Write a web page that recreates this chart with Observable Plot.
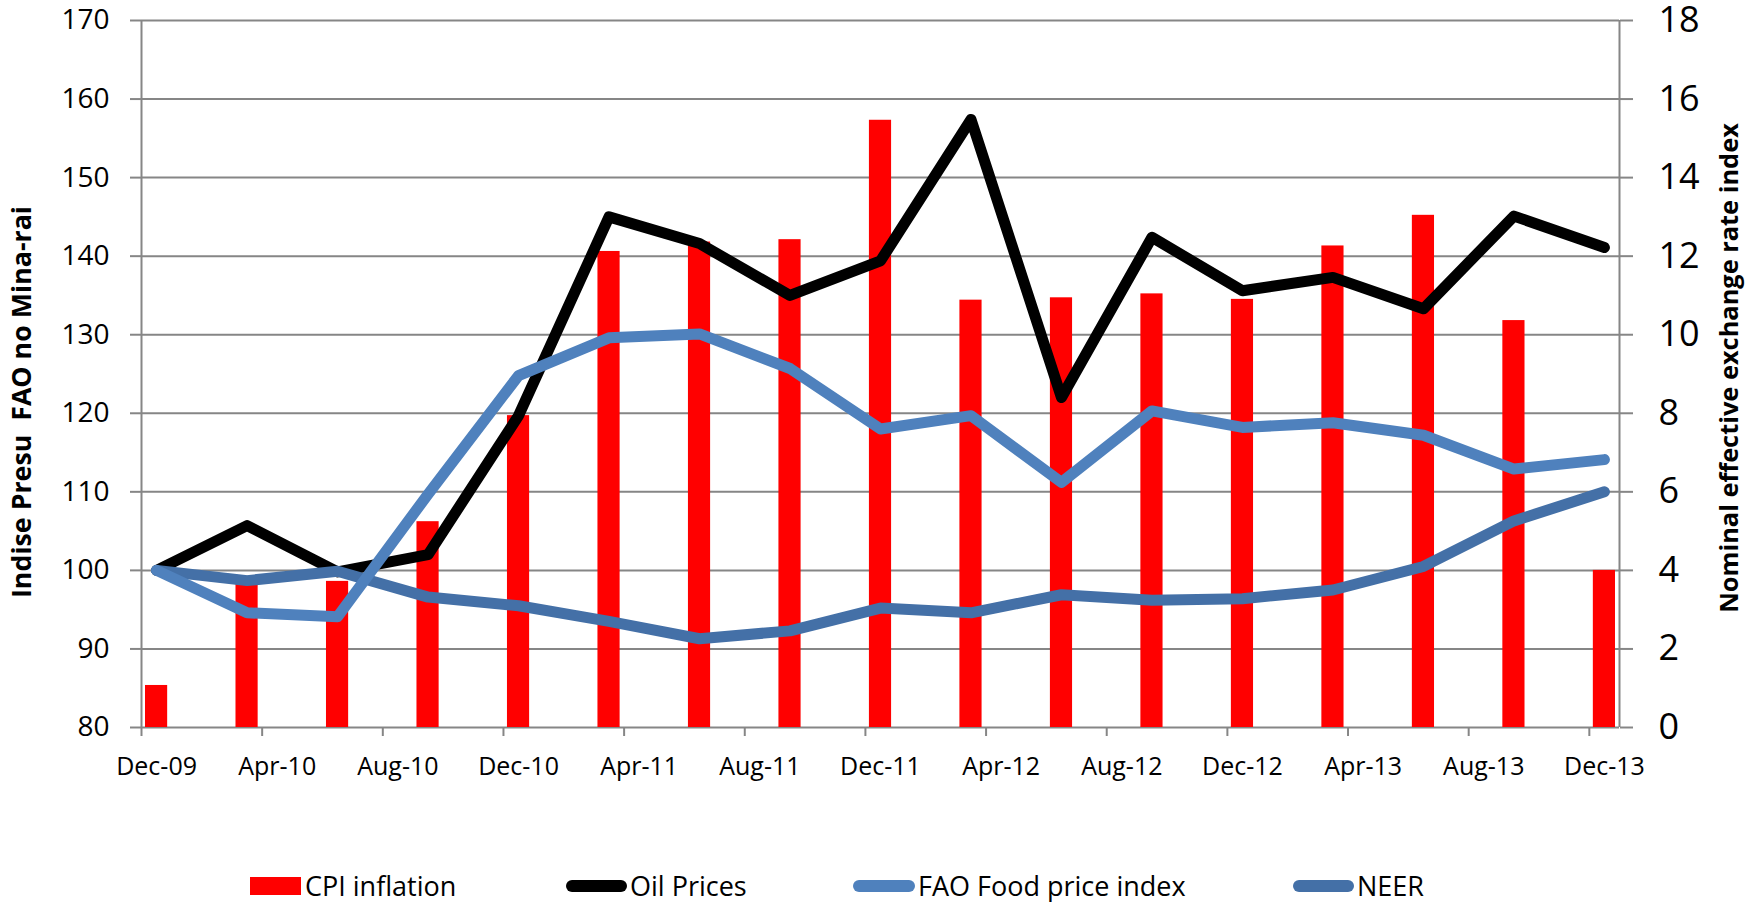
<!DOCTYPE html>
<html>
<head>
<meta charset="utf-8">
<script src="https://cdn.jsdelivr.net/npm/d3@7"></script>
<script src="https://cdn.jsdelivr.net/npm/@observablehq/plot@0.6"></script>
<style>
  html, body { margin: 0; padding: 0; background: #fff; }
  body { width: 1760px; height: 902px; overflow: hidden; font-family: "Open Sans", sans-serif; }
  #legend { position: relative; width: 1760px; height: 102px; }
  .sw { position: absolute; }
  .lt { position: absolute; font-size: 27px; line-height: 27px; top: 72px; white-space: nowrap; color: #000; }
</style>
</head>
<body>
<div id="chart"></div>
<div id="legend"></div>
<script>
// ---- data ----
const quarters = ["Dec-09","Mar-10","Jun-10","Sep-10","Dec-10","Mar-11","Jun-11","Sep-11","Dec-11","Mar-12","Jun-12","Sep-12","Dec-12","Mar-13","Jun-13","Sep-13","Dec-13"];
const cpiInflation = [1.07,3.64,3.72,5.24,7.94,12.12,12.36,12.42,15.46,10.88,10.94,11.04,10.90,12.26,13.04,10.36,4.00];
const oilPrices = [100,105.7,99.8,102.0,119.7,145.0,141.6,135.0,139.4,157.4,122.0,142.4,135.6,137.3,133.3,145.1,141.1];
const faoFood = [100,94.6,94.1,109.7,124.8,129.6,130.1,125.7,118.0,119.7,111.2,120.3,118.2,118.8,117.2,112.9,114.1];
const neer = [100,98.7,99.9,96.6,95.5,93.5,91.3,92.3,95.2,94.6,96.9,96.2,96.4,97.5,100.5,106.3,110.0];
const xTickLabels = ["Dec-09","Apr-10","Aug-10","Dec-10","Apr-11","Aug-11","Dec-11","Apr-12","Aug-12","Dec-12","Apr-13","Aug-13","Dec-13"];
const leftTicks = [80,90,100,110,120,130,140,150,160,170];
const rightTicks = [0,2,4,6,8,10,12,14,16,18];
const leftTitle = "Indise Presu  FAO no Mina-rai";
const rightTitle = "Nominal effective exchange rate index";

const series = [
  {name: "CPI inflation", color: "#FF0000"},
  {name: "Oil Prices", color: "#000000"},
  {name: "FAO Food price index", color: "#4F81BD"},
  {name: "NEER", color: "#4470A7"}
];

// month slot index (Dec-09 = 0)
const monNames = ["Jan","Feb","Mar","Apr","May","Jun","Jul","Aug","Sep","Oct","Nov","Dec"];
function slot(label) {
  const [m, y] = label.split("-");
  return (2000 + +y - 2009) * 12 + monNames.indexOf(m) + 1 - 12;
}
// right axis (CPI) -> left axis scale
const rightToLeft = r => 80 + r * 5;
const leftToRight = l => (l - 80) / 5;

const rows = quarters.map((q, i) => ({
  q, m: slot(q), cpi: cpiInflation[i], oil: oilPrices[i], fao: faoFood[i], neer: neer[i]
}));
const nSlots = slot("Dec-13") + 1;

const gray = "#868686";
const font = "Open Sans";
const lw = 11;

const chart = Plot.plot({
  width: 1760,
  height: 800,
  marginTop: 20,
  marginBottom: 73,
  marginLeft: 141,
  marginRight: 141,
  style: {fontFamily: font, background: "#fff"},
  x: {type: "linear", domain: [0, nSlots], axis: null},
  y: {type: "linear", domain: [80, 170], axis: null},
  marks: [
    Plot.gridY(leftTicks, {stroke: gray, strokeOpacity: 1, strokeWidth: 2}),
    Plot.axisY(leftTicks, {anchor: "left", tickSize: 11, tickPadding: 21, stroke: gray, strokeWidth: 2,
      fill: "#000", fontSize: 28, fontFamily: font, label: null}),
    Plot.axisY(rightTicks.map(rightToLeft), {anchor: "right", tickSize: 13, tickPadding: 26, stroke: gray, strokeWidth: 2,
      fill: "#000", fontSize: 36, fontFamily: font, label: null, tickFormat: d => leftToRight(d)}),
    Plot.axisX(xTickLabels.map(slot), {anchor: "bottom", tickSize: 9, stroke: gray, strokeWidth: 2, fill: "none", label: null}),
    Plot.axisX(xTickLabels.map(l => slot(l) + 0.5), {anchor: "bottom", tickSize: 0, tickPadding: 30, fill: "#000",
      fontSize: 25, fontFamily: font, label: null, tickFormat: (d, i) => xTickLabels[i]}),
    Plot.ruleX([0, nSlots], {stroke: gray, strokeWidth: 2}),
    Plot.rectY(rows, {x1: d => d.m, x2: d => d.m + 1, y1: 80, y2: d => rightToLeft(d.cpi),
      insetLeft: 4, insetRight: 4, fill: series[0].color}),
    Plot.line(rows, {x: d => d.m + 0.5, y: "oil", stroke: series[1].color, strokeWidth: lw,
      strokeLinecap: "round", strokeLinejoin: "round"}),
    Plot.line(rows, {x: d => d.m + 0.5, y: "neer", stroke: series[3].color, strokeWidth: lw,
      strokeLinecap: "round", strokeLinejoin: "round"}),
    Plot.line(rows, {x: d => d.m + 0.5, y: "fao", stroke: series[2].color, strokeWidth: lw,
      strokeLinecap: "round", strokeLinejoin: "round"}),
    Plot.text([leftTitle], {frameAnchor: "left", textAnchor: "middle", dx: -119, dy: 28, rotate: -90, fontSize: 22,
      fontWeight: "bold", fontFamily: font, fill: "#000", className: "ttl-left"}),
    Plot.text([rightTitle], {frameAnchor: "right", textAnchor: "middle", dx: 110, dy: -6, rotate: -90, fontSize: 22,
      fontWeight: "bold", fontFamily: font, fill: "#000", className: "ttl-right"})
  ]
});
document.getElementById("chart").appendChild(chart);

// size axis titles so that their lengths match the reference
const fit = (cls, len) => {
  chart.querySelectorAll("." + cls + " text").forEach(t => {
    t.setAttribute("xml:space", "preserve");
    const w = t.getComputedTextLength();
    if (w > 0) t.setAttribute("font-size", (22 * len / w).toFixed(2));
  });
};
fit("ttl-left", 392);
fit("ttl-right", 490);

// legend
const legendPos = [
  {sw: [250, 301], tx: 305, kind: "rect"},
  {sw: [566, 627], tx: 630, kind: "line"},
  {sw: [853, 915], tx: 918, kind: "line"},
  {sw: [1293, 1354], tx: 1357, kind: "line"}
];
const legend = document.getElementById("legend");
series.forEach((s, i) => {
  const p = legendPos[i];
  const sw = document.createElement("div");
  sw.className = "sw";
  sw.style.left = p.sw[0] + "px";
  sw.style.width = (p.sw[1] - p.sw[0]) + "px";
  sw.style.background = s.color;
  if (p.kind === "rect") { sw.style.top = "77px"; sw.style.height = "18px"; }
  else { sw.style.top = "80px"; sw.style.height = "12px"; sw.style.borderRadius = "6px"; }
  legend.appendChild(sw);
  const t = document.createElement("div");
  t.className = "lt";
  t.style.left = p.tx + "px";
  t.textContent = s.name;
  legend.appendChild(t);
});
</script>
</body>
</html>
